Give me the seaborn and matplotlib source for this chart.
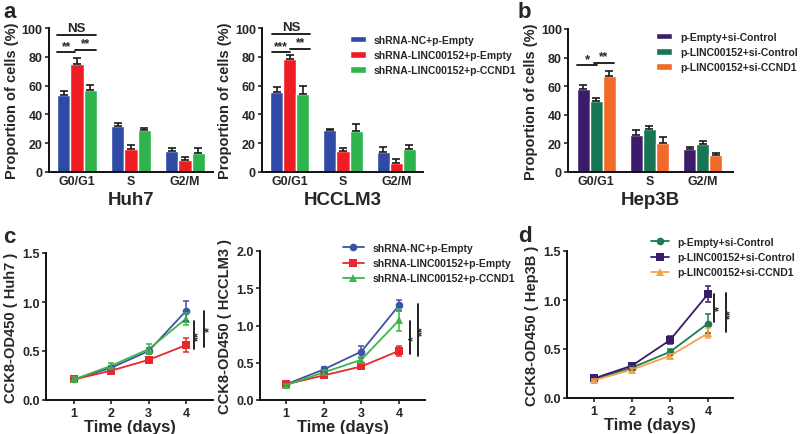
import numpy as np
import pandas as pd
import matplotlib
matplotlib.use("Agg")
import matplotlib.pyplot as plt
import seaborn as sns

sns.set_style("ticks")
plt.rcParams["font.family"] = ["Liberation Sans", "DejaVu Sans"]
plt.rcParams["font.weight"] = "bold"
plt.rcParams["axes.labelweight"] = "bold"

PHASES = ["G0/G1", "S", "G2/M"]
SH_GROUPS = ["shRNA-NC+p-Empty", "shRNA-LINC00152+p-Empty", "shRNA-LINC00152+p-CCND1"]
OE_GROUPS = ["p-Empty+si-Control", "p-LINC00152+si-Control", "p-LINC00152+si-CCND1"]
DAYS = [1, 2, 3, 4]

# cell-cycle proportions (%), one list per group, values per phase
HUH7_NC = [53.2, 31.7, 14.4]
HUH7_SH = [75.2, 15.7, 8.6]
HUH7_CC = [56.7, 29.4, 13.4]
HUH7_NC_ERR = [3.0, 2.0, 2.5]
HUH7_SH_ERR = [4.2, 3.3, 1.8]
HUH7_CC_ERR = [3.5, 1.4, 3.5]

LM3_NC = [55.8, 29.0, 14.0]
LM3_SH = [78.4, 14.4, 6.3]
LM3_CC = [54.0, 28.8, 15.8]
LM3_NC_ERR = [3.2, 1.2, 3.4]
LM3_SH_ERR = [3.0, 2.3, 2.5]
LM3_CC_ERR = [6.0, 4.2, 2.8]

HEP_EMPTY = [57.7, 25.6, 16.3]
HEP_LINC = [50.0, 30.2, 19.8]
HEP_SI = [67.4, 20.2, 12.1]
HEP_EMPTY_ERR = [2.8, 4.0, 1.4]
HEP_LINC_ERR = [1.6, 1.7, 1.6]
HEP_SI_ERR = [3.0, 4.0, 0.9]

# CCK8 OD450 by day
CK_HUH7_NC = [0.21, 0.33, 0.50, 0.91]
CK_HUH7_SH = [0.21, 0.30, 0.41, 0.56]
CK_HUH7_CC = [0.21, 0.35, 0.52, 0.83]
CK_HUH7_NC_ERR = [0.02, 0.02, 0.03, 0.10]
CK_HUH7_SH_ERR = [0.02, 0.02, 0.02, 0.07]
CK_HUH7_CC_ERR = [0.02, 0.03, 0.05, 0.06]

CK_LM3_NC = [0.21, 0.41, 0.65, 1.27]
CK_LM3_SH = [0.21, 0.33, 0.45, 0.66]
CK_LM3_CC = [0.20, 0.37, 0.54, 1.07]
CK_LM3_NC_ERR = [0.02, 0.03, 0.08, 0.07]
CK_LM3_SH_ERR = [0.02, 0.02, 0.03, 0.07]
CK_LM3_CC_ERR = [0.02, 0.03, 0.04, 0.15]

CK_HEP_EMPTY = [0.19, 0.31, 0.47, 0.76]
CK_HEP_LINC = [0.20, 0.33, 0.59, 1.06]
CK_HEP_SI = [0.18, 0.29, 0.43, 0.66]
CK_HEP_EMPTY_ERR = [0.01, 0.02, 0.03, 0.10]
CK_HEP_LINC_ERR = [0.01, 0.02, 0.04, 0.08]
CK_HEP_SI_ERR = [0.01, 0.02, 0.02, 0.05]

SH_BAR_COLORS = ["#2e4aa6", "#ee1d24", "#2fb34c"]
OE_BAR_COLORS = ["#3b1c6b", "#177553", "#f26a2a"]
SH_LINE_COLORS = ["#3a55a5", "#e8282c", "#3db54b"]
OE_LINE_COLORS = ["#1d7a52", "#3b1c6b", "#f7a24d"]

LEG_FS = 7.5


def style_ax(ax, xticks=True):
    sns.despine(ax=ax)
    for s in ("left", "bottom"):
        ax.spines[s].set_linewidth(1.4)
        ax.spines[s].set_color("#111111")
    ax.tick_params(axis="y", width=1.2, length=3, labelsize=9, pad=1.5)
    ax.tick_params(axis="x", width=1.2, length=3 if xticks else 0, labelsize=9, pad=2)


def bar_panel(ax, groups, means, errs, colors, xlabel, xlim):
    df = pd.DataFrame([(p, g, v) for g, vals in zip(groups, means) for p, v in zip(PHASES, vals)],
                      columns=["phase", "group", "value"])
    sns.barplot(data=df, x="phase", y="value", hue="group", order=PHASES, hue_order=groups,
                palette=colors, saturation=1, errorbar=None, width=0.74, ax=ax, legend=True)
    for cont, err in zip(ax.containers, errs):
        xs = [b.get_x() + b.get_width() / 2 for b in cont]
        hs = [b.get_height() for b in cont]
        ax.errorbar(xs, hs, yerr=[np.zeros(len(err)), err], fmt="none", ecolor="#1a1a1a",
                    elinewidth=1.2, capsize=3, capthick=1.2, zorder=1)
    ax.set_ylim(0, 100)
    ax.set_yticks([0, 20, 40, 60, 80, 100])
    ax.set_xlim(*xlim)
    ax.set_ylabel("Proportion of cells (%)", fontsize=10.5, labelpad=2)
    ax.set_xlabel(xlabel, fontsize=13.5, labelpad=3)
    style_ax(ax, xticks=False)
    h, l = ax.get_legend_handles_labels()
    ax.get_legend().remove()
    return h, l


def sig_h(ax, x0, x1, y, txt, fs=8.5):
    ax.plot([x0, x1], [y, y], color="#111111", lw=1.3, clip_on=False)
    ax.text((x0 + x1) / 2, y + 0.5, txt, ha="center", va="bottom", fontsize=fs, clip_on=False)


def sig_v(ax, x, y0, y1, tx, txt):
    ax.plot([x, x], [y0, y1], color="#111111", lw=1.3, clip_on=False)
    ax.text(tx, (y0 + y1) / 2, txt, ha="center", va="center", rotation=90, fontsize=9,
            clip_on=False)


def line_panel(ax, groups, means, errs, colors, markers, ylabel, ymax, xlim):
    df = pd.DataFrame([(d, g, v) for g, vals in zip(groups, means) for d, v in zip(DAYS, vals)],
                      columns=["day", "group", "od"])
    sns.lineplot(data=df, x="day", y="od", hue="group", style="group", hue_order=groups,
                 style_order=groups, palette=colors, markers=markers, dashes=False,
                 markersize=5.5, markeredgewidth=0, linewidth=1.3, errorbar=None, ax=ax,
                 legend=True)
    for g, m, e, c in zip(groups, means, errs, colors):
        ax.errorbar(DAYS, m, yerr=e, fmt="none", ecolor=c, elinewidth=1.1, capsize=2.5, capthick=1.1)
    ax.set_ylim(0, ymax)
    ax.set_yticks(np.arange(0, ymax + 0.01, 0.5))
    ax.set_yticklabels([f"{t:.1f}" for t in np.arange(0, ymax + 0.01, 0.5)])
    ax.set_xlim(*xlim)
    ax.set_xticks(DAYS)
    ax.set_ylabel(ylabel, fontsize=10.5, labelpad=3)
    ax.set_xlabel("Time (days)", fontsize=12, labelpad=0)
    style_ax(ax)
    h, l = ax.get_legend_handles_labels()
    ax.get_legend().remove()
    return h, l


fig = plt.figure(figsize=(8, 4.35), dpi=100)
W, H = 800, 435


def add_ax(x0, x1, top, bottom):
    return fig.add_axes([x0 / W, (H - bottom) / H, (x1 - x0) / W, (bottom - top) / H])


def add_legend(handles, labels, x, y, hl):
    fig.legend(handles, labels, loc="center left", bbox_to_anchor=(x / W, (H - y) / H),
               frameon=False, fontsize=LEG_FS, handlelength=hl, handleheight=0.6,
               handletextpad=0.8, labelspacing=0.5, borderpad=0, borderaxespad=0)


# --- a: Huh7 / HCCLM3 cell cycle
ax1 = add_ax(49, 213, 29, 173)
hs, ls = bar_panel(ax1, SH_GROUPS, [HUH7_NC, HUH7_SH, HUH7_CC],
                   [HUH7_NC_ERR, HUH7_SH_ERR, HUH7_CC_ERR], SH_BAR_COLORS, "Huh7", (-0.52, 2.52))
sig_h(ax1, -0.37, 0.35, 95, "NS", fs=9.5)
sig_h(ax1, -0.37, -0.03, 83, "**")
sig_h(ax1, -0.03, 0.35, 85, "**")

ax2 = add_ax(262, 423, 29, 173)
bar_panel(ax2, SH_GROUPS, [LM3_NC, LM3_SH, LM3_CC],
          [LM3_NC_ERR, LM3_SH_ERR, LM3_CC_ERR], SH_BAR_COLORS, "HCCLM3", (-0.52, 2.5))
sig_h(ax2, -0.33, 0.38, 96, "NS", fs=9.5)
sig_h(ax2, -0.33, 0.01, 83, "***")
sig_h(ax2, 0.01, 0.38, 85.5, "**")
add_legend(hs, ls, 350, 56, 1.5)

# --- b: Hep3B cell cycle
ax3 = add_ax(568, 733, 30, 173)
hb, lb = bar_panel(ax3, OE_GROUPS, [HEP_EMPTY, HEP_LINC, HEP_SI],
                   [HEP_EMPTY_ERR, HEP_LINC_ERR, HEP_SI_ERR], OE_BAR_COLORS, "Hep3B",
                   (-0.53, 2.57))
sig_h(ax3, -0.36, 0.02, 74.5, "*", fs=9.5)
sig_h(ax3, -0.05, 0.34, 76.5, "**")
add_legend(hb, lb, 656, 53, 1.5)

# --- c: CCK8 Huh7 / HCCLM3
ax4 = add_ax(46, 213, 254, 401)
hc, lc = line_panel(ax4, SH_GROUPS, [CK_HUH7_NC, CK_HUH7_SH, CK_HUH7_CC],
                    [CK_HUH7_NC_ERR, CK_HUH7_SH_ERR, CK_HUH7_CC_ERR], SH_LINE_COLORS,
                    ["o", "s", "^"], "CCK8-OD450 ( Huh7 )", 1.5, (0.25, 4.72))
sig_v(ax4, 4.22, 0.52, 0.81, 4.36, "**")
sig_v(ax4, 4.49, 0.54, 0.91, 4.63, "*")

ax5 = add_ax(260, 425, 252, 401)
line_panel(ax5, SH_GROUPS, [CK_LM3_NC, CK_LM3_SH, CK_LM3_CC],
           [CK_LM3_NC_ERR, CK_LM3_SH_ERR, CK_LM3_CC_ERR], SH_LINE_COLORS,
           ["o", "s", "^"], "CCK8-OD450 ( HCCLM3 )", 2.0, (0.31, 4.69))
sig_v(ax5, 4.29, 0.62, 1.06, 4.40, "*")
sig_v(ax5, 4.50, 0.59, 1.29, 4.64, "**")
add_legend(hc, lc, 343, 264, 2.0)

# --- d: CCK8 Hep3B
ax6 = add_ax(567, 733, 252, 399)
hd, ld = line_panel(ax6, OE_GROUPS, [CK_HEP_EMPTY, CK_HEP_LINC, CK_HEP_SI],
                    [CK_HEP_EMPTY_ERR, CK_HEP_LINC_ERR, CK_HEP_SI_ERR], OE_LINE_COLORS,
                    ["o", "s", "^"], "CCK8-OD450 ( Hep3B )", 1.5, (0.29, 4.66))
sig_v(ax6, 4.16, 0.78, 1.06, 4.31, "*")
sig_v(ax6, 4.47, 0.67, 1.07, 4.61, "**")
add_legend(hd, ld, 651, 258, 1.7)

for x, y, s in [(3, 18, "a"), (518, 18, "b"), (3, 243, "c"), (518, 242, "d")]:
    fig.text(x / W, (H - y) / H, s, fontsize=16, weight="bold", va="baseline")

fig.savefig("out.png", dpi=100)
